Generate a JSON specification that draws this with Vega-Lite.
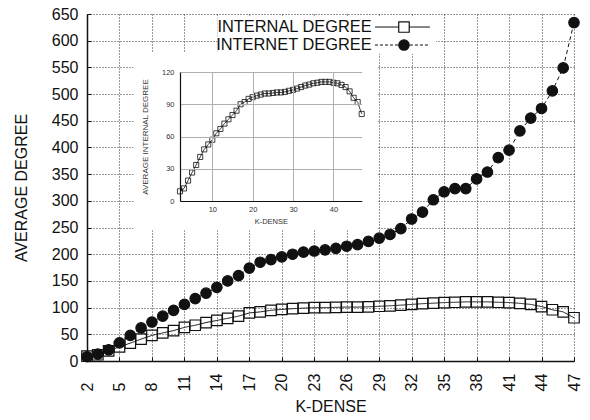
{
  "$schema": "https://vega.github.io/schema/vega-lite/v6.json",
  "width": 487,
  "height": 347,
  "autosize": "none",
  "padding": {"left": 87, "top": 14, "right": 16, "bottom": 59},
  "background": "white",
  "config": {
    "font": "Liberation Sans",
    "view": {"stroke": null},
    "axis": {"labelFont": "Liberation Sans", "titleFont": "Liberation Sans", "titleFontWeight": "normal"}
  },
  "data": {
    "values": [
      {"k": 2, "series": "INTERNAL DEGREE", "value": 9},
      {"k": 3, "series": "INTERNAL DEGREE", "value": 11.7},
      {"k": 4, "series": "INTERNAL DEGREE", "value": 19},
      {"k": 5, "series": "INTERNAL DEGREE", "value": 26.5},
      {"k": 6, "series": "INTERNAL DEGREE", "value": 33.5},
      {"k": 7, "series": "INTERNAL DEGREE", "value": 41},
      {"k": 8, "series": "INTERNAL DEGREE", "value": 48},
      {"k": 9, "series": "INTERNAL DEGREE", "value": 52.6},
      {"k": 10, "series": "INTERNAL DEGREE", "value": 57},
      {"k": 11, "series": "INTERNAL DEGREE", "value": 63},
      {"k": 12, "series": "INTERNAL DEGREE", "value": 67},
      {"k": 13, "series": "INTERNAL DEGREE", "value": 72},
      {"k": 14, "series": "INTERNAL DEGREE", "value": 76},
      {"k": 15, "series": "INTERNAL DEGREE", "value": 80},
      {"k": 16, "series": "INTERNAL DEGREE", "value": 84},
      {"k": 17, "series": "INTERNAL DEGREE", "value": 90},
      {"k": 18, "series": "INTERNAL DEGREE", "value": 92},
      {"k": 19, "series": "INTERNAL DEGREE", "value": 95},
      {"k": 20, "series": "INTERNAL DEGREE", "value": 96.6},
      {"k": 21, "series": "INTERNAL DEGREE", "value": 98},
      {"k": 22, "series": "INTERNAL DEGREE", "value": 99},
      {"k": 23, "series": "INTERNAL DEGREE", "value": 100},
      {"k": 24, "series": "INTERNAL DEGREE", "value": 100},
      {"k": 25, "series": "INTERNAL DEGREE", "value": 100.5},
      {"k": 26, "series": "INTERNAL DEGREE", "value": 101},
      {"k": 27, "series": "INTERNAL DEGREE", "value": 101},
      {"k": 28, "series": "INTERNAL DEGREE", "value": 101.5},
      {"k": 29, "series": "INTERNAL DEGREE", "value": 102.5},
      {"k": 30, "series": "INTERNAL DEGREE", "value": 103.4},
      {"k": 31, "series": "INTERNAL DEGREE", "value": 104.6},
      {"k": 32, "series": "INTERNAL DEGREE", "value": 106},
      {"k": 33, "series": "INTERNAL DEGREE", "value": 107.4},
      {"k": 34, "series": "INTERNAL DEGREE", "value": 108.3},
      {"k": 35, "series": "INTERNAL DEGREE", "value": 109.5},
      {"k": 36, "series": "INTERNAL DEGREE", "value": 110},
      {"k": 37, "series": "INTERNAL DEGREE", "value": 110.8},
      {"k": 38, "series": "INTERNAL DEGREE", "value": 110.8},
      {"k": 39, "series": "INTERNAL DEGREE", "value": 110.8},
      {"k": 40, "series": "INTERNAL DEGREE", "value": 110},
      {"k": 41, "series": "INTERNAL DEGREE", "value": 109.5},
      {"k": 42, "series": "INTERNAL DEGREE", "value": 108},
      {"k": 43, "series": "INTERNAL DEGREE", "value": 106},
      {"k": 44, "series": "INTERNAL DEGREE", "value": 102},
      {"k": 45, "series": "INTERNAL DEGREE", "value": 96},
      {"k": 46, "series": "INTERNAL DEGREE", "value": 92},
      {"k": 47, "series": "INTERNAL DEGREE", "value": 81},
      {"k": 2, "series": "INTERNET DEGREE", "value": 8},
      {"k": 3, "series": "INTERNET DEGREE", "value": 13},
      {"k": 4, "series": "INTERNET DEGREE", "value": 21},
      {"k": 5, "series": "INTERNET DEGREE", "value": 34},
      {"k": 6, "series": "INTERNET DEGREE", "value": 48},
      {"k": 7, "series": "INTERNET DEGREE", "value": 62},
      {"k": 8, "series": "INTERNET DEGREE", "value": 73},
      {"k": 9, "series": "INTERNET DEGREE", "value": 84},
      {"k": 10, "series": "INTERNET DEGREE", "value": 95},
      {"k": 11, "series": "INTERNET DEGREE", "value": 106},
      {"k": 12, "series": "INTERNET DEGREE", "value": 117},
      {"k": 13, "series": "INTERNET DEGREE", "value": 127},
      {"k": 14, "series": "INTERNET DEGREE", "value": 138},
      {"k": 15, "series": "INTERNET DEGREE", "value": 150},
      {"k": 16, "series": "INTERNET DEGREE", "value": 160},
      {"k": 17, "series": "INTERNET DEGREE", "value": 174},
      {"k": 18, "series": "INTERNET DEGREE", "value": 185},
      {"k": 19, "series": "INTERNET DEGREE", "value": 190},
      {"k": 20, "series": "INTERNET DEGREE", "value": 195},
      {"k": 21, "series": "INTERNET DEGREE", "value": 200},
      {"k": 22, "series": "INTERNET DEGREE", "value": 204},
      {"k": 23, "series": "INTERNET DEGREE", "value": 206},
      {"k": 24, "series": "INTERNET DEGREE", "value": 208},
      {"k": 25, "series": "INTERNET DEGREE", "value": 211},
      {"k": 26, "series": "INTERNET DEGREE", "value": 215},
      {"k": 27, "series": "INTERNET DEGREE", "value": 218},
      {"k": 28, "series": "INTERNET DEGREE", "value": 224},
      {"k": 29, "series": "INTERNET DEGREE", "value": 230},
      {"k": 30, "series": "INTERNET DEGREE", "value": 237},
      {"k": 31, "series": "INTERNET DEGREE", "value": 248},
      {"k": 32, "series": "INTERNET DEGREE", "value": 266},
      {"k": 33, "series": "INTERNET DEGREE", "value": 279},
      {"k": 34, "series": "INTERNET DEGREE", "value": 302},
      {"k": 35, "series": "INTERNET DEGREE", "value": 317},
      {"k": 36, "series": "INTERNET DEGREE", "value": 323},
      {"k": 37, "series": "INTERNET DEGREE", "value": 323},
      {"k": 38, "series": "INTERNET DEGREE", "value": 341},
      {"k": 39, "series": "INTERNET DEGREE", "value": 354},
      {"k": 40, "series": "INTERNET DEGREE", "value": 381},
      {"k": 41, "series": "INTERNET DEGREE", "value": 395},
      {"k": 42, "series": "INTERNET DEGREE", "value": 431},
      {"k": 43, "series": "INTERNET DEGREE", "value": 455},
      {"k": 44, "series": "INTERNET DEGREE", "value": 473},
      {"k": 45, "series": "INTERNET DEGREE", "value": 506},
      {"k": 46, "series": "INTERNET DEGREE", "value": 549},
      {"k": 47, "series": "INTERNET DEGREE", "value": 634}
    ]
  },
  "layer": [
    {
      "data": {"values": [{}]},
      "mark": {"type": "rect", "fill": "white"},
      "encoding": {
        "x": {"datum": 6.3, "type": "quantitative", "scale": {"domain": [2, 47], "nice": false, "zero": false}, "axis": null},
        "x2": {"datum": 28.8},
        "y": {"datum": 245, "type": "quantitative", "scale": {"domain": [0, 650], "nice": false, "zero": false}, "axis": null},
        "y2": {"datum": 577}
      }
    },
    {
      "data": {"values": [{}]},
      "mark": {"type": "rect", "fill": "white"},
      "encoding": {
        "x": {"datum": 14.05, "type": "quantitative", "scale": {"domain": [2, 47], "nice": false, "zero": false}, "axis": null},
        "x2": {"datum": 34.25},
        "y": {"datum": 575.5, "type": "quantitative", "scale": {"domain": [0, 650], "nice": false, "zero": false}, "axis": null},
        "y2": {"datum": 646}
      }
    },
    {
      "mark": {"type": "line", "color": "#111", "strokeWidth": 1},
      "encoding": {
        "x": {
          "field": "k", "type": "quantitative",
          "scale": {"domain": [2, 47], "nice": false, "zero": false},
          "axis": {
            "values": [2, 5, 8, 11, 14, 17, 20, 23, 26, 29, 32, 35, 38, 41, 44, 47],
            "labelAngle": 270, "labelAlign": "left", "labelBaseline": "middle",
            "labelFontSize": 16, "labelColor": "#111", "labelPadding": 34,
            "title": "K-DENSE", "titleFontSize": 16, "titleColor": "#111", "titlePadding": 7,
            "grid": true, "gridDash": [1, 2], "gridColor": "#333", "gridWidth": 1,
            "domainColor": "#111", "domainWidth": 1.5,
            "ticks": true, "tickSize": -4, "tickColor": "#111", "tickWidth": 1
          }
        },
        "y": {
          "field": "value", "type": "quantitative",
          "scale": {"domain": [0, 650], "nice": false},
          "axis": {
            "values": [0, 50, 100, 150, 200, 250, 300, 350, 400, 450, 500, 550, 600, 650],
            "labelFontSize": 16, "labelColor": "#111", "labelPadding": 13,
            "title": "AVERAGE DEGREE", "titleFontSize": 16, "titleColor": "#111", "titlePadding": 22,
            "grid": true, "gridDash": [1, 2], "gridColor": "#333", "gridWidth": 1,
            "domainColor": "#111", "domainWidth": 1.5,
            "ticks": true, "tickSize": -4, "tickColor": "#111", "tickWidth": 1
          }
        },
        "strokeDash": {
          "field": "series", "type": "nominal",
          "scale": {"range": [[1, 0], [4, 3]]},
          "legend": null
        }
      }
    },
    {
      "mark": {"type": "point", "filled": true, "stroke": "#111", "strokeWidth": 1.2, "size": 110, "opacity": 1},
      "encoding": {
        "x": {"field": "k", "type": "quantitative", "scale": {"domain": [2, 47], "nice": false, "zero": false}, "axis": null},
        "y": {"field": "value", "type": "quantitative", "scale": {"domain": [0, 650], "nice": false}, "axis": null},
        "fill": {
          "field": "series", "type": "nominal",
          "scale": {"range": ["transparent", "#111"]},
          "legend": null
        },
        "shape": {
          "field": "series", "type": "nominal",
          "scale": {"range": ["square", "circle"]},
          "legend": null
        }
      }
    },
    {
      "data": {"values": [{}]},
      "mark": {"type": "text", "text": "INTERNAL DEGREE", "align": "right", "baseline": "middle", "fontSize": 16.4, "font": "Liberation Sans", "color": "#111"},
      "encoding": {
        "x": {"datum": 28.3, "type": "quantitative", "scale": {"domain": [2, 47], "nice": false, "zero": false}, "axis": null},
        "y": {"datum": 625.6, "type": "quantitative", "scale": {"domain": [0, 650], "nice": false, "zero": false}, "axis": null}
      }
    },
    {
      "data": {"values": [{}]},
      "mark": {"type": "text", "text": "INTERNET DEGREE", "align": "right", "baseline": "middle", "fontSize": 16.4, "font": "Liberation Sans", "color": "#111"},
      "encoding": {
        "x": {"datum": 28.3, "type": "quantitative", "scale": {"domain": [2, 47], "nice": false, "zero": false}, "axis": null},
        "y": {"datum": 591.9, "type": "quantitative", "scale": {"domain": [0, 650], "nice": false, "zero": false}, "axis": null}
      }
    },
    {
      "data": {"values": [{}]},
      "mark": {"type": "rule", "color": "#111", "strokeWidth": 1},
      "encoding": {
        "x": {"datum": 28.61, "type": "quantitative", "scale": {"domain": [2, 47], "nice": false, "zero": false}, "axis": null},
        "x2": {"datum": 33.69},
        "y": {"datum": 625.6, "type": "quantitative", "scale": {"domain": [0, 650], "nice": false, "zero": false}, "axis": null}
      }
    },
    {
      "data": {"values": [{}]},
      "mark": {"type": "rule", "color": "#111", "strokeWidth": 1, "strokeDash": [3, 2]},
      "encoding": {
        "x": {"datum": 28.61, "type": "quantitative", "scale": {"domain": [2, 47], "nice": false, "zero": false}, "axis": null},
        "x2": {"datum": 33.69},
        "y": {"datum": 591.9, "type": "quantitative", "scale": {"domain": [0, 650], "nice": false, "zero": false}, "axis": null}
      }
    },
    {
      "data": {"values": [{}]},
      "mark": {"type": "point", "shape": "square", "filled": true, "fill": "white", "stroke": "#111", "strokeWidth": 1.2, "size": 110, "opacity": 1},
      "encoding": {
        "x": {"datum": 31.29, "type": "quantitative", "scale": {"domain": [2, 47], "nice": false, "zero": false}, "axis": null},
        "y": {"datum": 625.6, "type": "quantitative", "scale": {"domain": [0, 650], "nice": false, "zero": false}, "axis": null}
      }
    },
    {
      "data": {"values": [{}]},
      "mark": {"type": "point", "shape": "circle", "filled": true, "fill": "#111", "stroke": "#111", "strokeWidth": 1.2, "size": 110, "opacity": 1},
      "encoding": {
        "x": {"datum": 31.29, "type": "quantitative", "scale": {"domain": [2, 47], "nice": false, "zero": false}, "axis": null},
        "y": {"datum": 591.9, "type": "quantitative", "scale": {"domain": [0, 650], "nice": false, "zero": false}, "axis": null}
      }
    },
    {
      "transform": [{"filter": "datum.series === 'INTERNAL DEGREE'"}],
      "mark": {"type": "line", "color": "#111", "strokeWidth": 0.8},
      "encoding": {
        "x": {
          "field": "k", "type": "quantitative",
          "scale": {"domain": [2, 47], "nice": false, "zero": false, "range": [93, 274.7]},
          "axis": {
            "orient": "bottom", "offset": -160, "values": [10, 20, 30, 40],
            "labelFontSize": 7.5, "labelColor": "#333", "labelPadding": 4,
            "title": "K-DENSE", "titleFontSize": 7.5, "titleColor": "#333", "titlePadding": 5,
            "grid": false, "domainColor": "#111", "domainWidth": 1.2, "ticks": false, "zindex": 2
          }
        },
        "y": {
          "field": "value", "type": "quantitative",
          "scale": {"domain": [0, 120], "nice": false, "range": [187, 58]},
          "axis": {
            "orient": "left", "offset": -93, "values": [0, 30, 60, 90, 120],
            "labelFontSize": 7.5, "labelColor": "#333", "labelPadding": 6,
            "title": "AVERAGE INTERNAL DEGREE", "titleFontSize": 8, "titleColor": "#333", "titlePadding": 12,
            "grid": true, "gridColor": "#b0b0b0", "gridWidth": 1,
            "domainColor": "#111", "domainWidth": 1.2, "ticks": false, "zindex": 1
          }
        }
      }
    },
    {
      "transform": [{"filter": "datum.series === 'INTERNAL DEGREE'"}],
      "mark": {"type": "point", "shape": "square", "filled": false, "stroke": "#111", "strokeWidth": 0.8, "size": 26, "opacity": 1},
      "encoding": {
        "x": {
          "field": "k", "type": "quantitative",
          "scale": {"domain": [2, 47], "nice": false, "zero": false, "range": [93, 274.7]},
          "axis": {
            "orient": "top", "offset": -58, "values": [10, 20, 30, 40],
            "labels": false, "domain": false, "ticks": false, "title": null,
            "grid": true, "gridColor": "#b0b0b0", "gridWidth": 1, "zindex": 1
          }
        },
        "y": {
          "field": "value", "type": "quantitative",
          "scale": {"domain": [0, 120], "nice": false, "range": [187, 58]},
          "axis": null
        }
      }
    }
  ],
  "resolve": {
    "scale": {"x": "independent", "y": "independent"},
    "axis": {"x": "independent", "y": "independent"}
  }
}
